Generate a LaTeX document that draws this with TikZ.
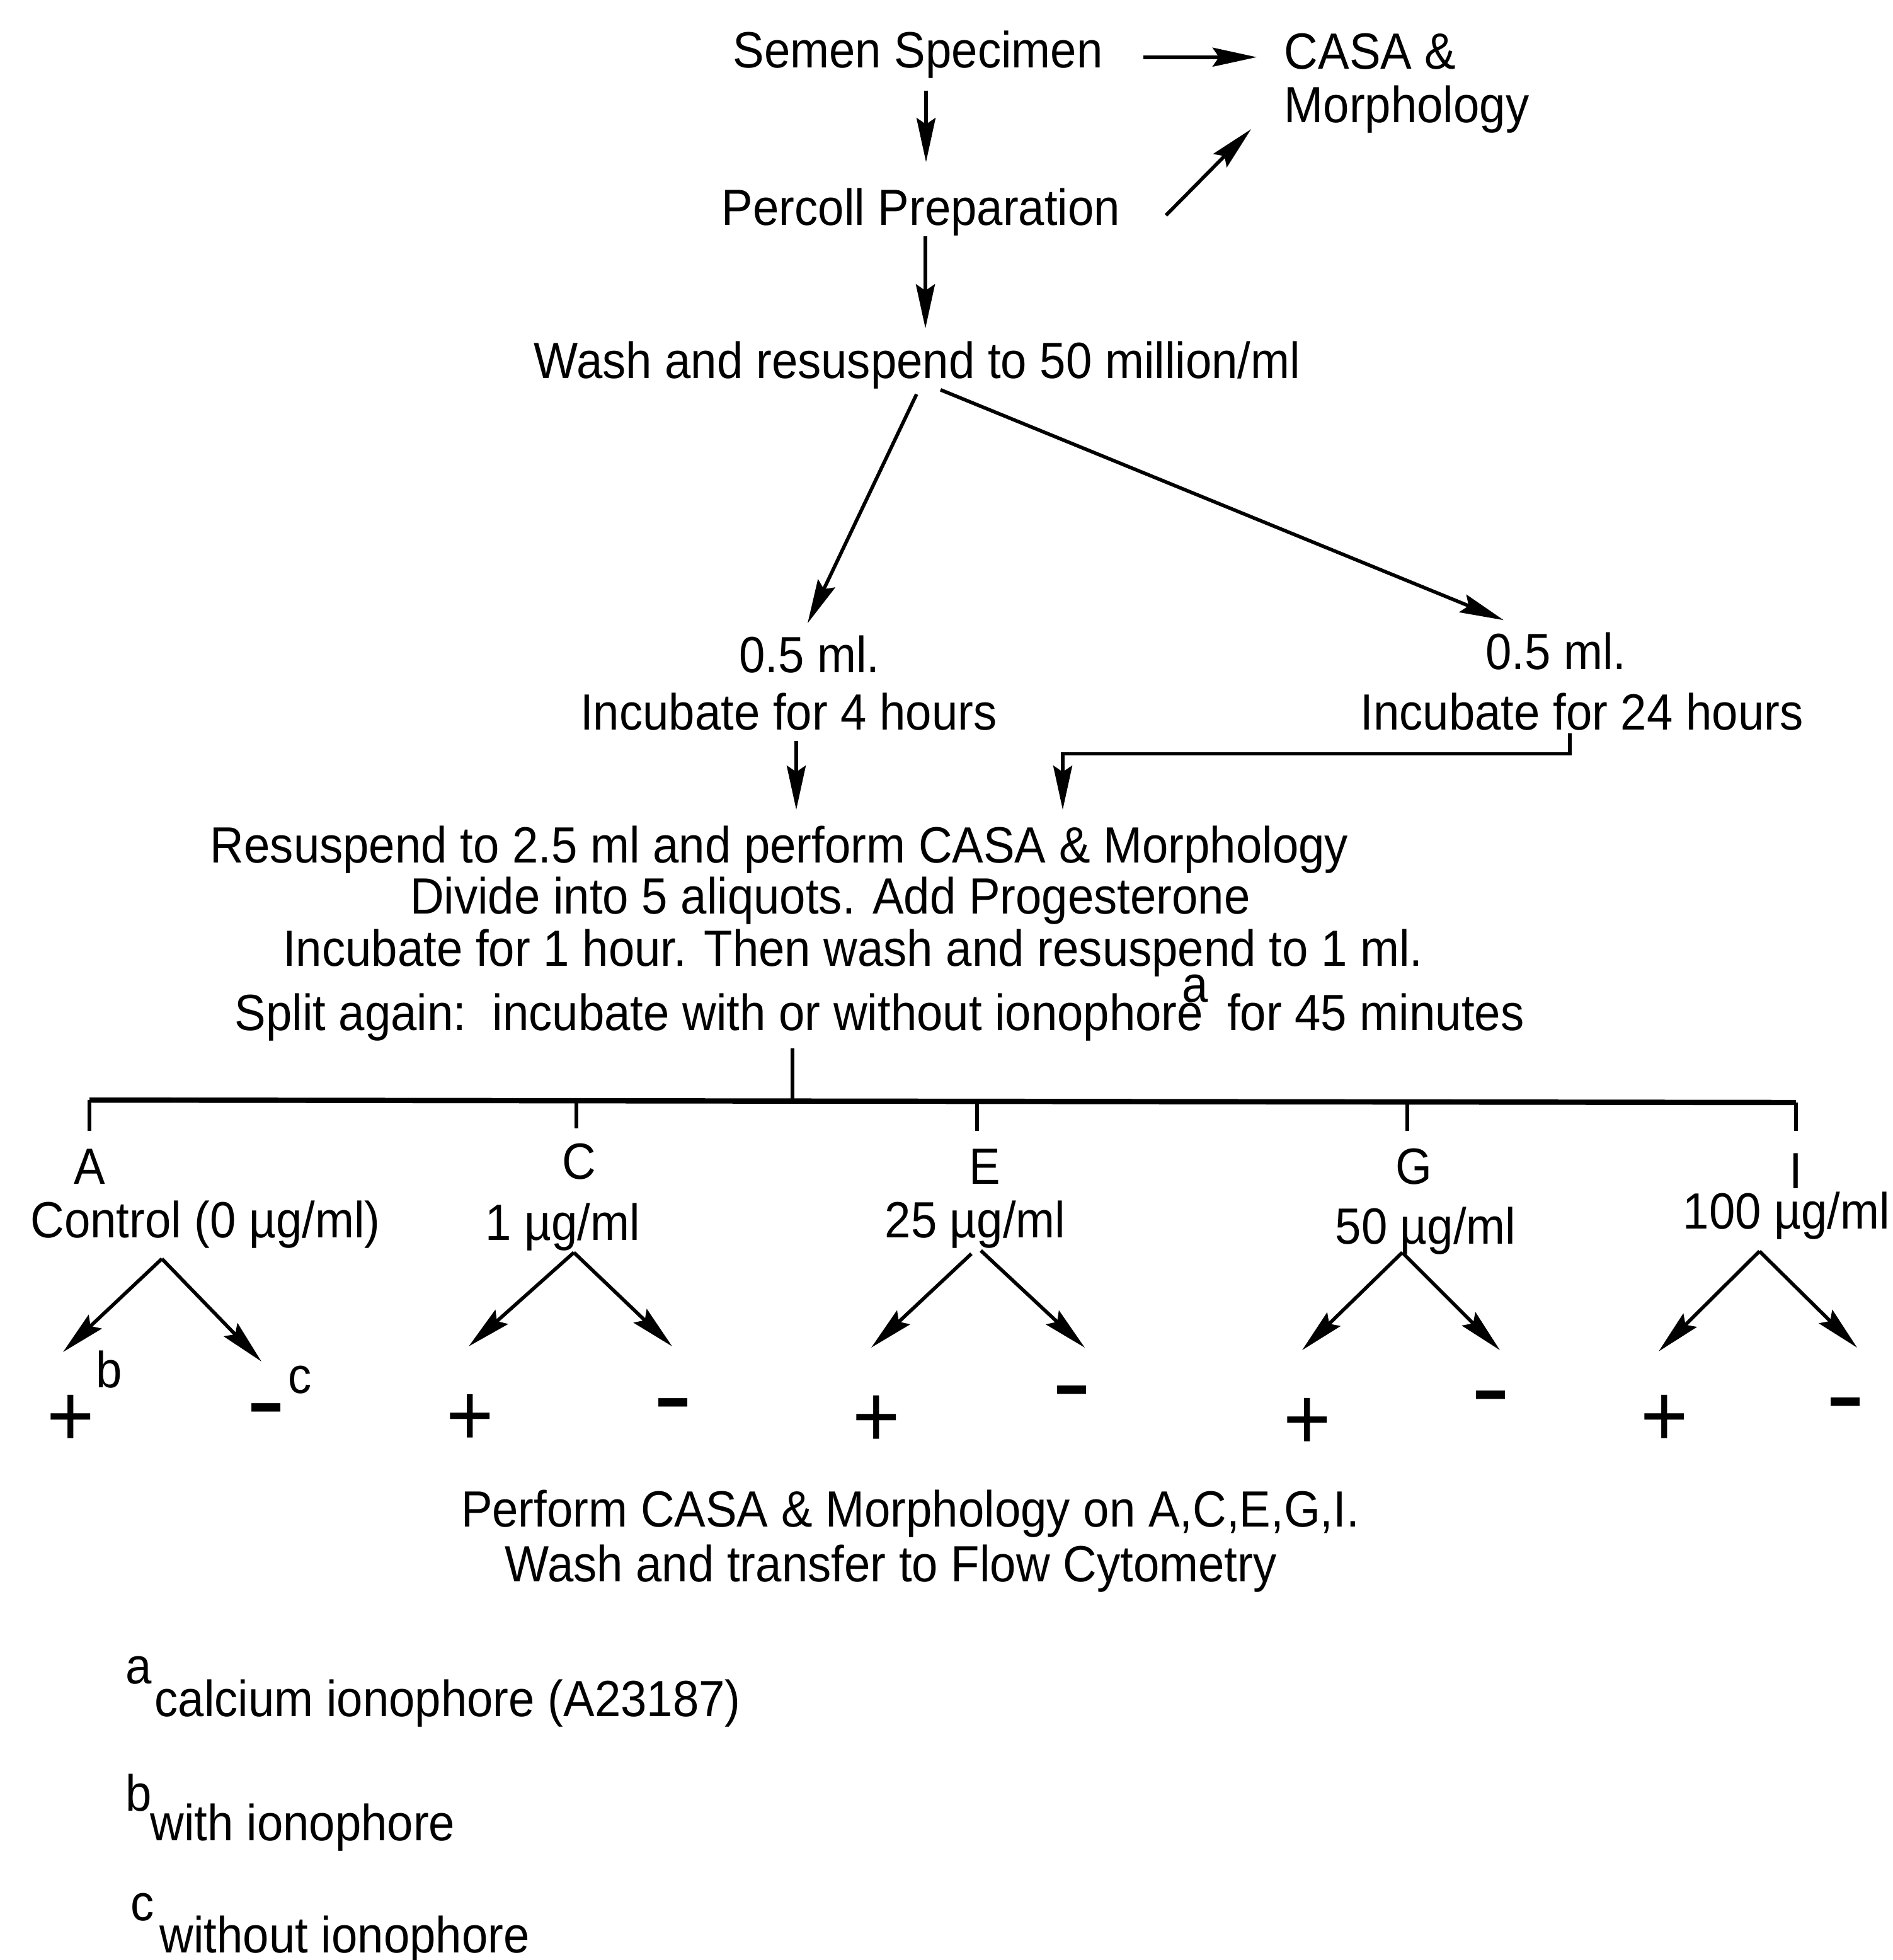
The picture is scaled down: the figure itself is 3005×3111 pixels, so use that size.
\documentclass[tikz,border=0pt]{standalone}
\usepackage{fontspec}
\setmainfont{Liberation Sans}[FakeStretch=0.92]
\usetikzlibrary{arrows.meta,calc}
\begin{document}
\begin{tikzpicture}[x=0.1mm, y=-0.1mm,
  every node/.style={font=\fontsize{23}{27}\selectfont, inner sep=0pt},
  txt/.style={anchor=base, text height=5.9mm, text depth=1.7mm},
  arr/.style={line width=1.6pt, -{Stealth[length=7mm, width=3mm, inset=1mm]}},
  ln/.style={line width=1.6pt},
  bus/.style={line width=2.4pt},
  tick/.style={line width=1.8pt},
  plus/.style={font=\fontsize{40}{44}\selectfont},
  minus/.style={font=\fontsize{32}{36}\selectfont\bfseries},
]
\useasboundingbox (0,0) rectangle (3005,3111);

% top part
\node[txt] (semen) at (1457,107) {Semen Specimen};
\node[txt, anchor=base west] (casa1) at (2038,109) {CASA \&};
\node[txt, anchor=base west] (casa2) at (2038,194) {Morphology};
\node[txt] (percoll) at (1462,357) {Percoll Preparation};
\node[txt] (wash) at (1456,600) {Wash and resuspend to 50 million/ml};

\draw[arr] ($(semen.mid east)+(64,-7)$) -- ($(casa1.mid west)+(-43,-9)$);
\draw[arr] ($(semen.south)+(13,19)$) -- ($(percoll.north)+(8,-40)$);
\draw[arr] ($(percoll.mid east)+(72,-6)$) -- ($(casa2.base west)+(-52,11)$);
\draw[arr] ($(percoll.south)+(7,0)$) -- ($(wash.north)+(13,-19)$);

% two incubations
\node[txt] (ml4) at (1285,1067) {0.5 ml.};
\node[txt] (inc4) at (1252,1158) {Incubate for 4 hours};
\node[txt] (ml24) at (2470,1062) {0.5 ml.};
\node[txt] (inc24) at (2511,1158) {Incubate for 24 hours};

\draw[arr] ($(wash.south)+(-1,8)$) -- ($(ml4.north)+(-3,-18)$);
\draw[arr] ($(wash.south)+(37,1)$) -- ($(ml24.north)+(-83,-18)$);

% middle block
\node[txt] (res1) at (1237,1369) {Resuspend to 2.5 ml and perform CASA \& Morphology};
\node[txt] (res2) at (1318,1450) {Divide into 5 aliquots. Add Progesterone};
\node[txt] (res3) at (1354,1533) {Incubate for 1 hour. Then wash and resuspend to 1 ml.};
\node[txt] (res4) at (1396,1635) {Split again:\ \ incubate with or without ionophore\kern-0.42em\raisebox{4.5mm}{a}\kern0.12em{} for 45 minutes};

\draw[arr] ($(inc4.south)+(12,0)$) -- ($(res1.north)+(27,-24)$);
\draw[arr] ($(inc24.south)+(-19,-12)$) |- ($(res1.north)+(450,-113)$) -- ($(res1.north)+(450,-24)$);

% bus
\coordinate (busL) at (142,1746);
\coordinate (busR) at (2851,1750);
\coordinate (stem) at ($(res4.south)+(-138,11)$);
\draw[ln] (stem) -- (stem |- busL);
\draw[bus] (busL) -- (busR);

\node[txt] (lA) at (142,1879) {A};
\node[txt] (lC) at (919,1871) {C};
\node[txt] (lE) at (1563,1879) {E};
\node[txt] (lG) at (2244,1879) {G};
\node[txt] (lI) at (2851,1886) {I};

\coordinate (tC) at (915,1747);
\coordinate (tE) at (1551,1748);
\coordinate (tG) at (2234,1749);
\draw[tick, shorten >=2.4mm] (busL) -- (busL |- lA.north);
\draw[tick, shorten >=2.0mm] (tC) -- (tC |- lC.north);
\draw[tick, shorten >=2.4mm] (tE) -- (tE |- lE.north);
\draw[tick, shorten >=2.4mm] (tG) -- (tG |- lG.north);
\draw[tick, shorten >=3.1mm] (busR) -- (busR |- lI.north);

% concentrations
\node[txt] (cA) at (326,1964) {Control (0 µg/ml)};
\node[txt] (cC) at (893,1968) {1 µg/ml};
\node[txt] (cE) at (1548,1964) {25 µg/ml};
\node[txt] (cG) at (2263,1974) {50 µg/ml};
\node[txt] (cI) at (2836,1950) {100 µg/ml};

% signs
\node[plus] (pA) at (112,2255) {+};
\node[minus] (mA) at (423,2246) {\scalebox{1.75}[1]{-}};
\node[txt] (sb) at (173,2202) {b};
\node[txt] (sc) at (476,2211) {c};
\node[plus] (pC) at (746,2254) {+};
\node[minus] (mC) at (1069,2238) {\scalebox{1.75}[1]{-}};
\node[plus] (pE) at (1391,2256) {+};
\node[minus] (mE) at (1702,2218) {\scalebox{1.75}[1]{-}};
\node[plus] (pG) at (2075,2260) {+};
\node[minus] (mG) at (2367,2226) {\scalebox{1.75}[1]{-}};
\node[plus] (pI) at (2642,2255) {+};
\node[minus] (mI) at (2930,2237) {\scalebox{1.75}[1]{-}};

% forks
\coordinate (apA) at (257,1998);
\coordinate (apC) at (911,1988);
\coordinate (apEl) at (1542,1990);
\coordinate (apEr) at (1557,1985);
\coordinate (apG) at (2226,1988);
\coordinate (apI) at (2793,1986);

\draw[arr] (apA) -- ($(pA)+(-12,-109)$);
\draw[arr] (apA) -- ($(mA)+(-8,-85)$);
\draw[arr] (apC) -- ($(pC)+(-2,-117)$);
\draw[arr] (apC) -- ($(mC)+(-2,-101)$);
\draw[arr] (apEl) -- ($(pE)+(-8,-117)$);
\draw[arr] (apEr) -- ($(mE)+(20,-79)$);
\draw[arr] (apG) -- ($(pG)+(-8,-117)$);
\draw[arr] (apG) -- ($(mG)+(14,-83)$);
\draw[arr] (apI) -- ($(pI)+(-9,-110)$);
\draw[arr] (apI) -- ($(mI)+(18,-98)$);

% bottom text
\node[txt] (perf) at (1445,2423) {Perform CASA \& Morphology on A,C,E,G,I.};
\node[txt] (wasf) at (1414,2510) {Wash and transfer to Flow Cytometry};

% footnotes
\node[txt, anchor=base west] (fa) at (199,2672) {a};
\node[txt, anchor=base west] (fat) at (245,2724) {calcium ionophore (A23187)};
\node[txt, anchor=base west] (fb) at (199,2874) {b};
\node[txt, anchor=base west] (fbt) at (238,2921) {with ionophore};
\node[txt, anchor=base west] (fc) at (207,3048) {c};
\node[txt, anchor=base west] (fct) at (253,3099) {without ionophore};
\end{tikzpicture}
\end{document}
